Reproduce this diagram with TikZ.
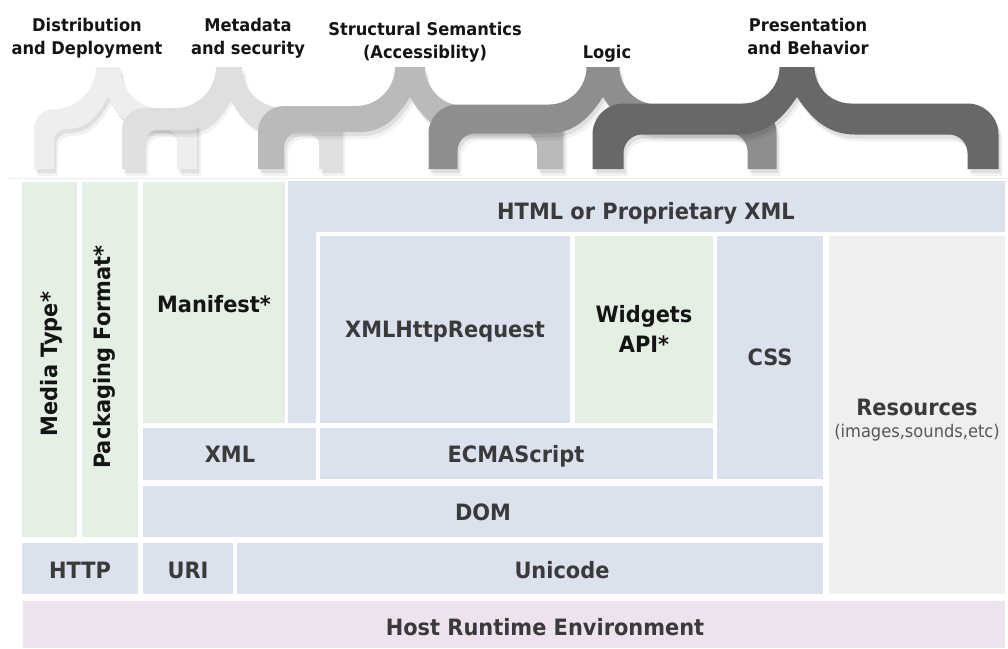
\documentclass[tikz,border=0pt]{standalone}
\usepackage{fontspec}
\setmainfont{DejaVu Sans}[FakeStretch=0.93]

\definecolor{boxblue}{HTML}{DCE1EE}
\definecolor{boxgreen}{HTML}{E4F0E4}
\definecolor{boxgray}{HTML}{EFEFEF}
\definecolor{boxpink}{HTML}{EFE2EF}
\definecolor{txtgray}{HTML}{3A3A3A}
\definecolor{txtdark}{HTML}{141414}
\definecolor{braceA}{HTML}{EEEEEE}
\definecolor{braceB}{HTML}{DFDFDF}
\definecolor{braceC}{HTML}{BABABA}
\definecolor{braceD}{HTML}{8E8E8E}
\definecolor{braceE}{HTML}{686868}

% A filled curly brace opening downwards.
% #1 left leg x, #2 tip x, #3 right leg x, #4 thickness, #5 fill options
\newcommand\bracefill[5]{%
  \pgfmathsetmacro\bh{#4/2}%
  \pgfmathsetmacro\byt{119-\bh}%
  \pgfmathsetmacro\byb{119+\bh}%
  \pgfmathsetmacro\btw{\bh+2}%
  \pgfmathsetmacro\bcx{\byt-67}%
  \pgfmathsetmacro\bro{#4}%
  \pgfmathsetmacro\bri{0.6*#4}%
  \pgfmathsetmacro\bnb{1.6*#4+8}%
  \pgfmathsetmacro\bny{97+0.5*(\byb-97)}%
  \fill[#5] ({#1-\bh},169) -- ({#1-\bh},{\byt+\bro})
    .. controls ({#1-\bh},{\byt+0.448*\bro}) and ({#1-\bh+0.448*\bro},\byt) .. ({#1-\bh+\bro},\byt)
    -- ({#2-\btw-\bcx},\byt)
    .. controls ({#2-\btw-0.448*\bcx},\byt) and ({#2-\btw},{67+0.552*\bcx}) .. ({#2-\btw},67)
    -- ({#2+\btw},67)
    .. controls ({#2+\btw},{67+0.552*\bcx}) and ({#2+\btw+0.448*\bcx},\byt) .. ({#2+\btw+\bcx},\byt)
    -- ({#3+\bh-\bro},\byt)
    .. controls ({#3+\bh-0.448*\bro},\byt) and ({#3+\bh},{\byt+0.448*\bro}) .. ({#3+\bh},{\byt+\bro})
    -- ({#3+\bh},169) -- ({#3-\bh},169) -- ({#3-\bh},{\byb+\bri})
    .. controls ({#3-\bh},{\byb+0.448*\bri}) and ({#3-\bh-0.448*\bri},\byb) .. ({#3-\bh-\bri},\byb)
    -- ({#2+\bnb},\byb)
    .. controls ({#2+0.5*\bnb},\byb) and ({#2+0.22*\bnb},\bny) .. (#2,97)
    .. controls ({#2-0.22*\bnb},\bny) and ({#2-0.5*\bnb},\byb) .. ({#2-\bnb},\byb)
    -- ({#1+\bh+\bri},\byb)
    .. controls ({#1+\bh+0.448*\bri},\byb) and ({#1+\bh},{\byb+0.448*\bri}) .. ({#1+\bh},{\byb+\bri})
    -- ({#1+\bh},169) -- cycle;}

% A brace with its soft shadow
\newcommand\layerbrace[5]{%
  \bracefill{#1}{#2}{#3}{#4}{black,opacity=0.05,xshift=4pt,yshift=-7pt}%
  \bracefill{#1}{#2}{#3}{#4}{black,opacity=0.08,xshift=2pt,yshift=-4pt}%
  \bracefill{#1}{#2}{#3}{#4}{#5}}

\begin{document}
\begin{tikzpicture}[x=1pt,y=-1pt,
  lab/.style={font=\bfseries\fontsize{22.5}{30}\selectfont, text=txtgray,
    align=center, inner sep=0pt, anchor=base},
  labdark/.style={lab, text=txtdark},
  note/.style={font=\fontsize{17.5}{22}\selectfont, text=txtgray!85,
    inner sep=0pt, anchor=base},
  head/.style={font=\bfseries\fontsize{17.5}{23}\selectfont, text=txtdark,
    align=center, inner sep=0pt, anchor=base}]
\useasboundingbox (0,0) rectangle (1008,648);
\fill[white] (0,0) rectangle (1008,648);

% ---- braces grouping the layers ----
\layerbrace{44}{108}{187}{20}{braceA}
\layerbrace{133}{229}{330}{22}{braceB}
\layerbrace{271}{410}{550}{26}{braceC}
\layerbrace{443}{603}{762}{29}{braceD}
\layerbrace{608}{797}{983}{31}{braceE}

\draw[black!7, line width=1pt] (8,178) -- (1008,178);

% ---- group headings (placed by the baseline of their last line) ----
\node[head] (hdist) at (87,54)  {Distribution\\and Deployment};
\node[head] (hmeta) at (248,54) {Metadata\\and security};
\node[head] (hstru) at (425,58) {Structural Semantics\\(Accessiblity)};
\node[head] (hlogi) at (607,58) {Logic};
\node[head] (hpres) at (808,54) {Presentation\\and Behavior};

% ---- layer blocks ----
\fill[boxgreen] (22,182) rectangle (77,537);
\fill[boxgreen] (82,182) rectangle (138,537);
\fill[boxgreen] (143,182) rectangle (285,423);
\fill[boxblue] (288,181) -- (1005,181) -- (1005,232) -- (316,232) -- (316,423) -- (288,423) -- cycle;
\fill[boxblue] (320,236) rectangle (570,423);
\fill[boxgreen] (575,236) rectangle (713,423);
\fill[boxblue] (717,236) rectangle (823,479);
\fill[boxgray] (829,236) rectangle (1005,594);
\fill[boxblue] (143,428) rectangle (316,480);
\fill[boxblue] (320,428) rectangle (713,479);
\fill[boxblue] (143,486) rectangle (823,537);
\fill[boxblue] (22,543) rectangle (138,594);
\fill[boxblue] (143,543) rectangle (233,594);
\fill[boxblue] (237,543) rectangle (823,594);
\fill[boxpink] (23,601) rectangle (1005,648);

% ---- block labels ----
\node[labdark, rotate=90] (media) at (57,364) {Media Type*};
\node[labdark, rotate=90] (pack) at (110,357) {Packaging Format*};
\node[labdark] (manifest) at (214,312) {Manifest*};
\node[lab] (html) at (646,219) {HTML or Proprietary XML};
\node[lab] (xhr) at (445,337) {XMLHttpRequest};
\node[labdark] (widgets) at (644,352) {Widgets\\API*};
\node[lab] (css) at (770,365) {CSS};
\node[lab] (res) at (917,415) {Resources};
\node[note] (resnote) at (917,437) {(images,sounds,etc)};
\node[lab] (xml) at (230,462) {XML};
\node[lab] (ecma) at (516,462) {ECMAScript};
\node[lab] (dom) at (483,520) {DOM};
\node[lab] (http) at (80,578) {HTTP};
\node[lab] (uri) at (188,578) {URI};
\node[lab] (unicode) at (562,578) {Unicode};
\node[lab] (host) at (545,635) {Host Runtime Environment};
\end{tikzpicture}
\end{document}
